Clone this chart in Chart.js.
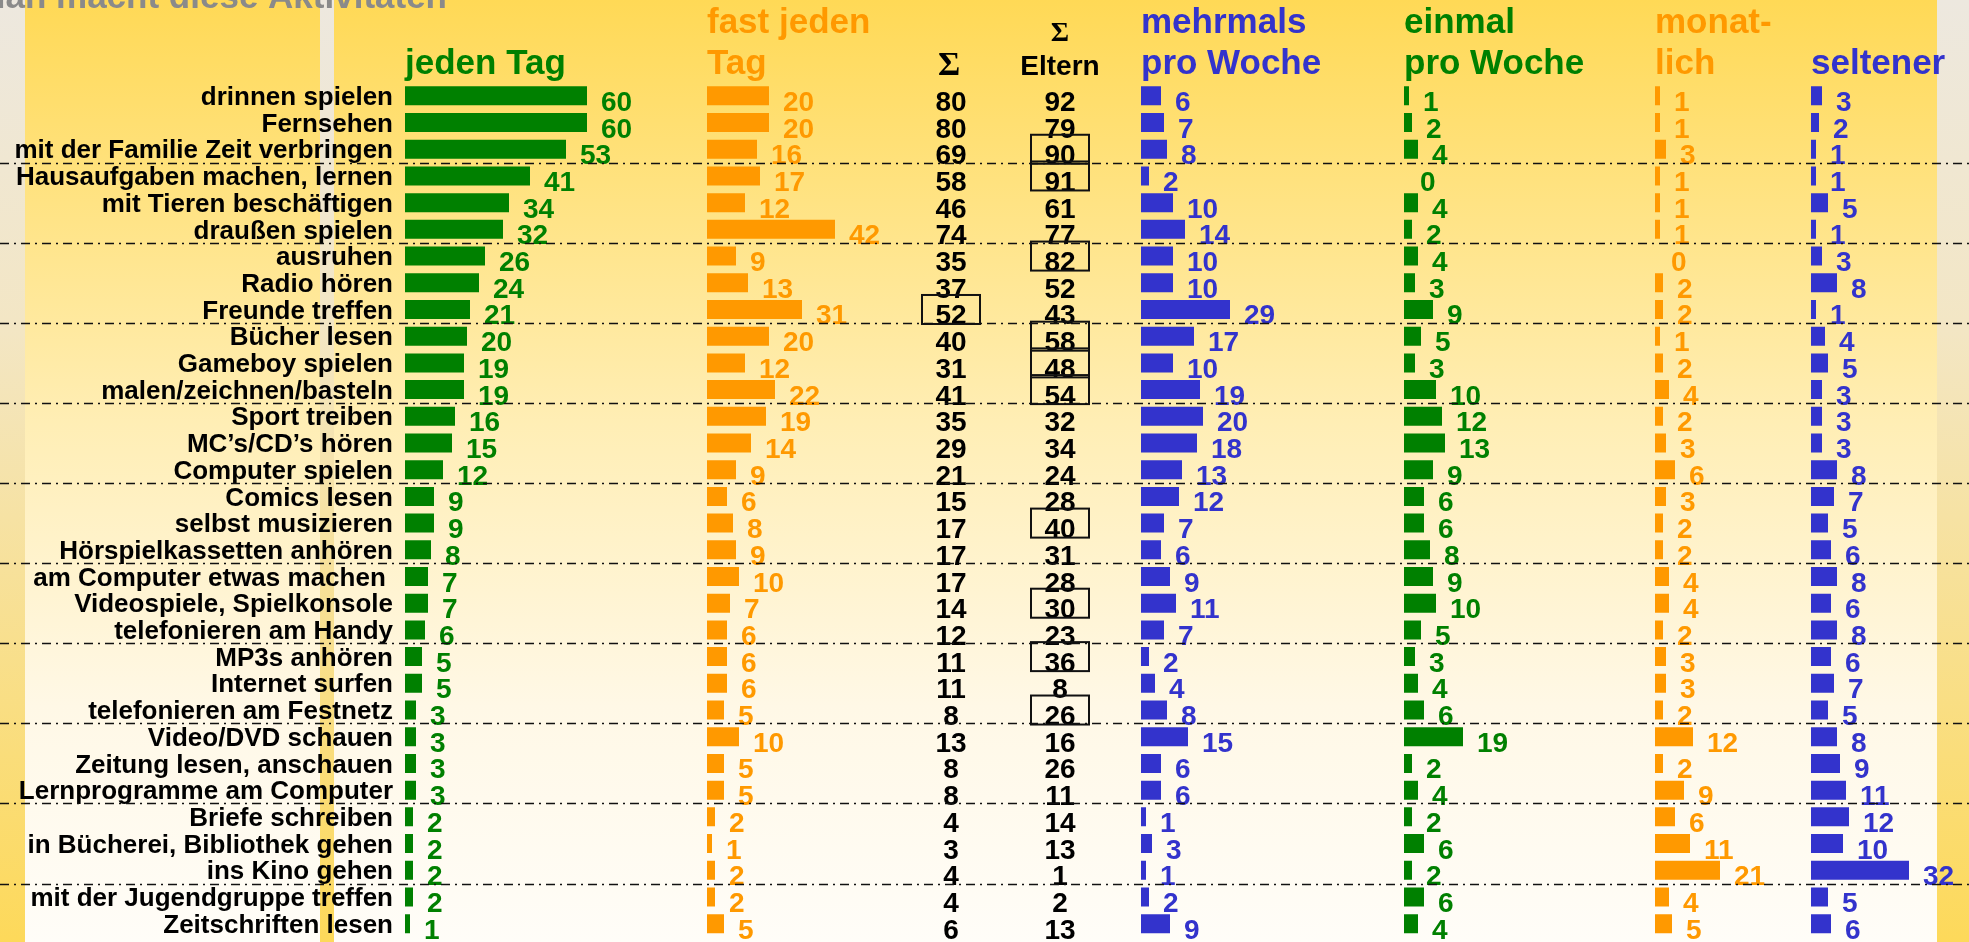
<!DOCTYPE html>
<html>
<head>
<meta charset="utf-8">
<script src="https://cdn.jsdelivr.net/npm/chart.js@4.4.1/dist/chart.umd.min.js"></script>
<style>
  html, body { margin: 0; padding: 0; overflow: hidden; background: #fff; }
  canvas { display: block; }
</style>
</head>
<body>
<canvas id="chart" width="1969" height="942"></canvas>
<script>
// Aktivitäten (Zeilen)
const activities = [
  "drinnen spielen", "Fernsehen", "mit der Familie Zeit verbringen", "Hausaufgaben machen, lernen",
  "mit Tieren beschäftigen", "draußen spielen", "ausruhen", "Radio hören", "Freunde treffen",
  "Bücher lesen", "Gameboy spielen", "malen/zeichnen/basteln", "Sport treiben", "MC’s/CD’s hören",
  "Computer spielen", "Comics lesen", "selbst musizieren", "Hörspielkassetten anhören",
  "am Computer etwas machen ", "Videospiele, Spielkonsole", "telefonieren am Handy", "MP3s anhören",
  "Internet surfen", "telefonieren am Festnetz", "Video/DVD schauen", "Zeitung lesen, anschauen",
  "Lernprogramme am Computer", "Briefe schreiben", "in Bücherei, Bibliothek gehen", "ins Kino gehen",
  "mit der Jugendgruppe treffen", "Zeitschriften lesen"
];

const jedenTag      = [60, 60, 53, 41, 34, 32, 26, 24, 21, 20, 19, 19, 16, 15, 12, 9, 9, 8, 7, 7, 6, 5, 5, 3, 3, 3, 3, 2, 2, 2, 2, 1];
const fastJedenTag  = [20, 20, 16, 17, 12, 42, 9, 13, 31, 20, 12, 22, 19, 14, 9, 6, 8, 9, 10, 7, 6, 6, 6, 5, 10, 5, 5, 2, 1, 2, 2, 5];
const summe         = [80, 80, 69, 58, 46, 74, 35, 37, 52, 40, 31, 41, 35, 29, 21, 15, 17, 17, 17, 14, 12, 11, 11, 8, 13, 8, 8, 4, 3, 4, 4, 6];
const summeEltern   = [92, 79, 90, 91, 61, 77, 82, 52, 43, 58, 48, 54, 32, 34, 24, 28, 40, 31, 28, 30, 23, 36, 8, 26, 16, 26, 11, 14, 13, 1, 2, 13];
const mehrmalsWoche = [6, 7, 8, 2, 10, 14, 10, 10, 29, 17, 10, 19, 20, 18, 13, 12, 7, 6, 9, 11, 7, 2, 4, 8, 15, 6, 6, 1, 3, 1, 2, 9];
const einmalWoche   = [1, 2, 4, 0, 4, 2, 4, 3, 9, 5, 3, 10, 12, 13, 9, 6, 6, 8, 9, 10, 5, 3, 4, 6, 19, 2, 4, 2, 6, 2, 6, 4];
const monatlich     = [1, 1, 3, 1, 1, 1, 0, 2, 2, 1, 2, 4, 2, 3, 6, 3, 2, 2, 4, 4, 2, 3, 3, 2, 12, 2, 9, 6, 11, 21, 4, 5];
const seltener      = [3, 2, 1, 1, 5, 1, 3, 8, 1, 4, 5, 3, 3, 3, 8, 7, 5, 6, 8, 6, 8, 6, 7, 5, 8, 9, 11, 12, 10, 32, 5, 6];

// eingerahmte Werte (Zeilenindex)
const boxedSumme  = [8];
const boxedEltern = [2, 3, 6, 9, 10, 11, 16, 19, 21, 23];

const GREEN = "#008000";
const ORANGE = "#ff9900";
const BLUE = "#3333cc";

const W = 1969;
const AXIS_W = 405;
const PX_PER_UNIT = 3.0;
const colStart = [406, 708, 1142, 1405, 1656, 1812];

const series = [
  { data: jedenTag,      color: GREEN,  head: ["", "jeden Tag"] },
  { data: fastJedenTag,  color: ORANGE, head: ["fast jeden", "Tag"] },
  { data: mehrmalsWoche, color: BLUE,   head: ["mehrmals", "pro Woche"] },
  { data: einmalWoche,   color: GREEN,  head: ["einmal", "pro Woche"] },
  { data: monatlich,     color: ORANGE, head: ["monat-", "lich"] },
  { data: seltener,      color: BLUE,   head: ["", "seltener"] },
];

const SANS = "'Liberation Sans', Arial, sans-serif";
const SERIF = "'Liberation Serif', 'Times New Roman', serif";

function xAxis(i) {
  const min = -(colStart[i] - AXIS_W) / PX_PER_UNIT;
  return { type: "linear", display: false, bounds: "data", min: min, max: min + (W - AXIS_W) / PX_PER_UNIT };
}

const scales = {
  y: {
    type: "category",
    labels: activities,
    offset: true,
    grid: { display: false, drawTicks: false },
    border: { display: false },
    ticks: {
      autoSkip: false,
      padding: 12,
      labelOffset: 2,
      color: "#000",
      font: { family: SANS, size: 26, weight: "bold" },
    },
    afterFit: (scale) => {
      scale.width = AXIS_W;
      scale.paddingTop = 0;
      scale.paddingBottom = 0;
    },
  },
};
series.forEach((s, i) => { scales["x" + i] = xAxis(i); });

const background = {
  id: "background",
  beforeDraw(chart) {
    const { ctx, width, height } = chart;
    ctx.save();
    const g = ctx.createLinearGradient(0, 0, 0, height);
    g.addColorStop(0, "#ffd956");
    g.addColorStop(0.45, "#ffeeb5");
    g.addColorStop(0.75, "#fff8e6");
    g.addColorStop(1, "#fffdf8");
    ctx.fillStyle = g;
    ctx.fillRect(0, 0, width, height);
    const s = ctx.createLinearGradient(0, 0, 0, height);
    s.addColorStop(0, "#ede8df");
    s.addColorStop(0.35, "#f3e6c4");
    s.addColorStop(1, "#fdd95a");
    ctx.fillStyle = s;
    ctx.fillRect(0, 0, 25, height);
    ctx.fillRect(320, 0, 14, height);
    ctx.fillRect(1937, 0, width - 1937, height);

    ctx.fillStyle = "#8a8a8a";
    ctx.font = "bold 35px " + SANS;
    ctx.textAlign = "right";
    ctx.textBaseline = "alphabetic";
    ctx.fillText("Man macht diese Aktivitäten", 447, 8);
    ctx.restore();
  },
};

const annotations = {
  id: "annotations",
  afterDatasetsDraw(chart) {
    const { ctx } = chart;
    const y = chart.scales.y;
    ctx.save();
    ctx.textBaseline = "alphabetic";

    // Werte hinter den Balken
    ctx.font = "bold 28px " + SANS;
    ctx.textAlign = "left";
    chart.data.datasets.forEach((ds, di) => {
      const meta = chart.getDatasetMeta(di);
      ctx.fillStyle = ds.backgroundColor;
      meta.data.forEach((bar, i) => {
        ctx.fillText(String(ds.data[i]), bar.x + 15, bar.y + 15);
      });
    });

    // Summenspalten
    ctx.fillStyle = "#000";
    ctx.textAlign = "center";
    activities.forEach((a, i) => {
      const yc = y.getPixelForValue(i);
      ctx.fillText(String(summe[i]), 951, yc + 15);
      ctx.fillText(String(summeEltern[i]), 1060, yc + 15);
    });
    ctx.strokeStyle = "#111";
    ctx.lineWidth = 2;
    boxedSumme.forEach((i) => {
      const yc = y.getPixelForValue(i);
      ctx.strokeRect(922, yc - 14.5, 58, 29);
    });
    boxedEltern.forEach((i) => {
      const yc = y.getPixelForValue(i);
      ctx.strokeRect(1031, yc - 14.5, 58, 29);
    });

    // Spaltenköpfe
    ctx.textAlign = "left";
    ctx.font = "bold 35px " + SANS;
    series.forEach((s, i) => {
      const x0 = chart.scales["x" + i].getPixelForValue(0) - 1;
      ctx.fillStyle = s.color;
      if (s.head[0]) ctx.fillText(s.head[0], x0, 33);
      ctx.fillText(s.head[1], x0, 74);
    });
    ctx.fillStyle = "#000";
    ctx.textAlign = "center";
    ctx.font = "bold 34px " + SERIF;
    ctx.fillText("Σ", 949, 75);
    ctx.font = "bold 28px " + SERIF;
    ctx.fillText("Σ", 1060, 41);
    ctx.font = "bold 28px " + SANS;
    ctx.fillText("Eltern", 1060, 75);
    ctx.restore();
  },
  afterDraw(chart) {
    const { ctx, width } = chart;
    const y = chart.scales.y;
    ctx.save();
    ctx.strokeStyle = "#111";
    ctx.lineWidth = 1.6;
    ctx.setLineDash([9, 5, 2, 5]);
    for (let i = 3; i < activities.length; i += 3) {
      const yy = Math.round((y.getPixelForValue(i - 1) + y.getPixelForValue(i)) / 2) + 0.5;
      ctx.beginPath();
      ctx.moveTo(0, yy);
      ctx.lineTo(width, yy);
      ctx.stroke();
    }
    ctx.restore();
  },
};

new Chart(document.getElementById("chart"), {
  type: "bar",
  data: {
    labels: activities,
    datasets: series.map((s, i) => ({
      data: s.data,
      xAxisID: "x" + i,
      yAxisID: "y",
      backgroundColor: s.color,
      borderWidth: 0,
      grouped: false,
      barThickness: 17,
      inflateAmount: (c) => (c.raw === 0 ? 0 : 1),
    })),
  },
  options: {
    indexAxis: "y",
    responsive: false,
    animation: false,
    devicePixelRatio: 1,
    layout: { padding: { top: 82.5, bottom: 5, left: 0, right: 0 } },
    plugins: {
      legend: { display: false },
      tooltip: { enabled: false },
    },
    scales: scales,
  },
  plugins: [background, annotations],
});
</script>
</body>
</html>
